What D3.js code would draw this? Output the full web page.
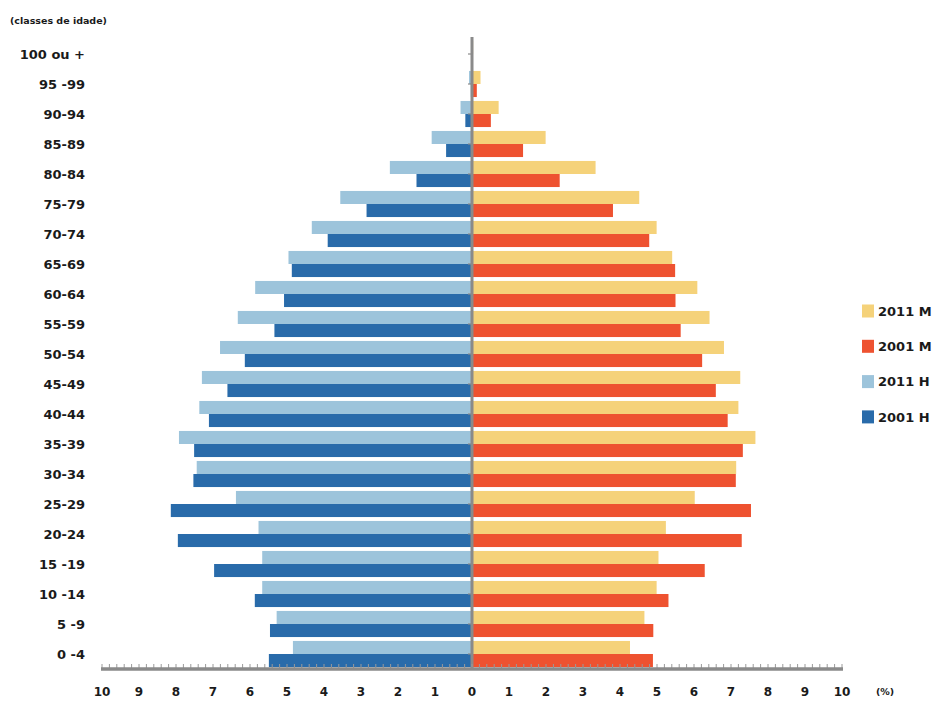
<!DOCTYPE html>
<html>
<head>
<meta charset="utf-8">
<script src="https://cdn.jsdelivr.net/npm/d3@7"></script>
<style>
  html, body { margin: 0; padding: 0; background: #fff; }
  svg { display: block; }
  text { font-family: "DejaVu Sans", sans-serif; font-weight: bold; fill: #1a1a1a; }
</style>
</head>
<body>
<svg id="chart" width="941" height="704"></svg>
<script>
// Age classes, top to bottom
const categories = ["100 ou +", "95 -99", "90-94", "85-89", "80-84", "75-79", "70-74", "65-69",
  "60-64", "55-59", "50-54", "45-49", "40-44", "35-39", "30-34", "25-29", "20-24",
  "15 -19", "10 -14", "5 -9", "0 -4"];

// Percent of population (men on the left, women on the right)
const men2011   = [0.02, 0.08, 0.31, 1.09, 2.22, 3.56, 4.33, 4.96, 5.86, 6.33, 6.81, 7.30, 7.37, 7.92, 7.44, 6.38, 5.77, 5.67, 5.67, 5.28, 4.84];
const men2001   = [0.01, 0.03, 0.18, 0.70, 1.50, 2.85, 3.90, 4.87, 5.08, 5.34, 6.14, 6.61, 7.11, 7.51, 7.53, 8.14, 7.95, 6.97, 5.87, 5.46, 5.49];
const women2011 = [0.03, 0.23, 0.72, 1.99, 3.34, 4.52, 4.99, 5.41, 6.09, 6.42, 6.81, 7.25, 7.20, 7.66, 7.14, 6.02, 5.24, 5.04, 4.99, 4.66, 4.27];
const women2001 = [0.02, 0.13, 0.51, 1.38, 2.37, 3.81, 4.79, 5.49, 5.50, 5.64, 6.22, 6.59, 6.91, 7.32, 7.13, 7.54, 7.29, 6.29, 5.31, 4.90, 4.89];

const tickValues = [-10, -9, -8, -7, -6, -5, -4, -3, -2, -1, 0, 1, 2, 3, 4, 5, 6, 7, 8, 9, 10];
const legendLabels = ["2011 M", "2001 M", "2011 H", "2001 H"];

const colors = {
  w2011: "#F5D27A",
  w2001: "#EE5230",
  m2011: "#9DC4DB",
  m2001: "#296BAA"
};

const svg = d3.select("#chart");

const x = d3.scaleLinear().domain([-10, 10]).range([102, 842]);
const y = d3.scaleBand().domain(categories).range([39, 669]).padding(0);
const sub = d3.scaleBand().domain(["2011", "2001"]).range([0, y.bandwidth()]).paddingInner(0).paddingOuter(0.15);

const rows = categories.map((c, i) => ({
  cat: c, m2011: men2011[i], m2001: men2001[i], w2011: women2011[i], w2001: women2001[i]
}));

const series = [
  { key: "m2011", year: "2011", side: -1 },
  { key: "m2001", year: "2001", side: -1 },
  { key: "w2011", year: "2011", side: 1 },
  { key: "w2001", year: "2001", side: 1 }
];

const barsG = svg.append("g");
series.forEach(s => {
  barsG.selectAll("rect." + s.key)
    .data(rows)
    .join("rect")
    .attr("class", s.key)
    .attr("x", d => s.side < 0 ? x(-d[s.key]) : x(0))
    .attr("width", d => Math.abs(x(d[s.key]) - x(0)))
    .attr("y", d => y(d.cat) + sub(s.year))
    .attr("height", sub.bandwidth())
    .attr("fill", colors[s.key]);
});

// vertical axis line with small ticks
const vAxis = svg.append("g");
vAxis.selectAll("line.vt")
  .data(categories)
  .join("line")
  .attr("class", "vt")
  .attr("x1", x(0) - 4).attr("x2", x(0))
  .attr("y1", d => y(d) + y.bandwidth() / 2)
  .attr("y2", d => y(d) + y.bandwidth() / 2)
  .attr("stroke", "#8a8a8a").attr("stroke-width", 1.2);
vAxis.append("line")
  .attr("x1", x(0)).attr("x2", x(0))
  .attr("y1", 37).attr("y2", 669)
  .attr("stroke", "#8a8a8a").attr("stroke-width", 3);

// horizontal axis
const axisY = 668;
const minor = d3.range(-10, 10.001, 0.2);
const hAxis = svg.append("g");
hAxis.selectAll("line.mt")
  .data(minor)
  .join("line")
  .attr("class", "mt")
  .attr("x1", d => x(d)).attr("x2", d => x(d))
  .attr("y1", axisY - 4).attr("y2", axisY)
  .attr("stroke", "#9a9a9a").attr("stroke-width", 1);
hAxis.append("line")
  .attr("x1", x(-10) - 1).attr("x2", x(10) + 1)
  .attr("y1", axisY + 1).attr("y2", axisY + 1)
  .attr("stroke", "#8a8a8a").attr("stroke-width", 3.5);

// tick labels
svg.append("g").selectAll("text")
  .data(tickValues)
  .join("text")
  .attr("x", d => x(d))
  .attr("y", 696)
  .attr("text-anchor", "middle")
  .attr("font-size", 12)
  .text(d => Math.abs(d));

svg.append("text")
  .attr("x", 876).attr("y", 695)
  .attr("font-size", 9.5)
  .text("(%)");

// category labels
svg.append("g").selectAll("text")
  .data(categories)
  .join("text")
  .attr("x", 85)
  .attr("y", d => y(d) + y.bandwidth() / 2)
  .attr("dy", "0.36em")
  .attr("text-anchor", "end")
  .attr("font-size", 13)
  .text(d => d);

// axis title
svg.append("text")
  .attr("x", 10).attr("y", 24)
  .attr("font-size", 9.5)
  .text("(classes de idade)");

// legend
const legendKeys = ["w2011", "w2001", "m2011", "m2001"];
const lg = svg.append("g").selectAll("g")
  .data(legendLabels)
  .join("g")
  .attr("transform", (d, i) => `translate(862, ${311 + i * 35.3})`);
lg.append("rect")
  .attr("x", 0).attr("y", -6.5)
  .attr("width", 12).attr("height", 13)
  .attr("fill", (d, i) => colors[legendKeys[i]]);
lg.append("text")
  .attr("x", 16).attr("y", 0)
  .attr("dy", "0.36em")
  .attr("font-size", 13)
  .text(d => d);
</script>
</body>
</html>
